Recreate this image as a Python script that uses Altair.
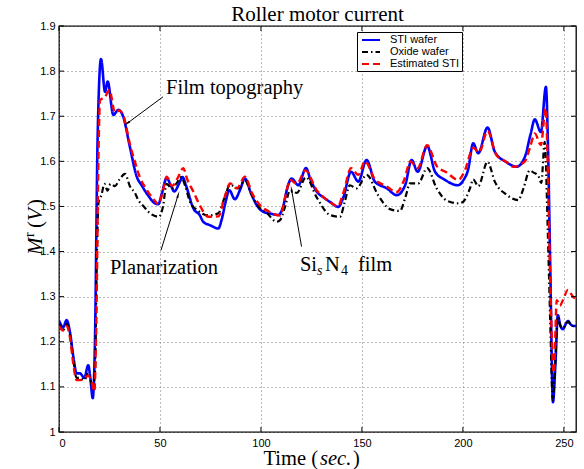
import altair as alt
import pandas as pd

# ---- data ----
t_sti = [0, 2, 3.8, 5.4, 7.1, 8.7, 10.4, 12.5, 14.5, 15.5, 16.7, 17.8, 19.1, 20.8, 22.8, 24.1,
         26.9, 29.4, 31.8, 35.1, 38.5, 40.9, 44, 47.5, 49.2, 51, 53.3, 55.5, 57.1, 59.5, 61.2,
         63, 66.5, 69.8, 71.4, 75, 78.9, 80.5, 82.5, 84.3, 87.1, 89.5, 92.1, 95, 97.9, 101.2,
         105, 108.6, 111, 113, 115.2, 118.5, 122.3, 124.5, 127.6, 131, 134.2, 138.3, 140.8,
         144.6, 148.2, 152.3, 156.4, 162.4, 167.2, 171.4, 174.6, 177.6, 182.3, 186.2, 191.1,
         197.5, 200.5, 202.5, 205.1, 207.6, 212.2, 215.8, 221.6, 226.6, 230.7, 233.5, 235.6,
         238.6, 241.1, 242.2, 243.2, 244.6, 245.8, 247, 248.3, 249.5, 251, 252, 253.5, 254.5, 256]
m_sti = [1.248, 1.232, 1.248, 1.222, 1.167, 1.13, 1.13, 1.12, 1.148, 1.12, 1.075, 1.20, 1.647,
         1.827, 1.754, 1.777, 1.703, 1.714, 1.699, 1.632, 1.566, 1.547, 1.525, 1.507, 1.505,
         1.53, 1.563, 1.545, 1.533, 1.551, 1.565, 1.545, 1.496, 1.48, 1.466, 1.458, 1.451, 1.47,
         1.51, 1.536, 1.516, 1.535, 1.562, 1.53, 1.503, 1.488, 1.484, 1.481, 1.50, 1.54, 1.562,
         1.547, 1.585, 1.56, 1.533, 1.52, 1.51, 1.499, 1.52, 1.577, 1.555, 1.603, 1.555, 1.54,
         1.525, 1.547, 1.603, 1.577, 1.634, 1.577, 1.559, 1.547, 1.56, 1.58, 1.64, 1.618, 1.675,
         1.621, 1.598, 1.588, 1.61, 1.66, 1.693, 1.665, 1.765, 1.62, 1.38, 1.066, 1.15, 1.259,
         1.235, 1.228, 1.24, 1.246, 1.238, 1.235, 1.235]

t_oxide = [0, 2, 3.8, 5.4, 7.1, 8.7, 10.4, 12.5, 14.5, 16.7, 17.8, 18.8, 19.6, 21, 22.5, 24,
           25.5, 27.7, 30, 32.7, 35.1, 37.6, 39.3, 42, 45, 49.5, 51.5, 53.3, 55.8, 58, 60.5,
           62.5, 64.9, 69, 73.9, 78.9, 82, 84.7, 88.8, 92.1, 95, 98.7, 103, 107.8, 109.5, 112,
           114.4, 117.8, 122.3, 127.6, 134.2, 139.1, 141.5, 144, 147.4, 152.3, 158, 163.9,
           168.8, 171.5, 173.8, 177.9, 182.3, 187, 192, 197.7, 200, 203.5, 205.1, 207.6, 212.2,
           215.8, 221.6, 227.4, 230, 233.1, 235, 237.3, 238.8, 240.5, 242, 243.2, 244.5, 245.8,
           247, 248.3, 249.5, 251, 252, 253.5, 254.5, 256]
m_oxide = [1.24, 1.225, 1.24, 1.215, 1.16, 1.12, 1.12, 1.115, 1.13, 1.10, 1.13, 1.40, 1.51,
           1.525, 1.55, 1.535, 1.55, 1.545, 1.56, 1.572, 1.545, 1.53, 1.514, 1.50, 1.485, 1.477,
           1.50, 1.55, 1.54, 1.55, 1.565, 1.545, 1.51, 1.49, 1.48, 1.485, 1.52, 1.548, 1.54,
           1.558, 1.53, 1.50, 1.485, 1.466, 1.47, 1.50, 1.536, 1.53, 1.565, 1.52, 1.481, 1.477,
           1.51, 1.547, 1.54, 1.57, 1.525, 1.494, 1.49, 1.52, 1.551, 1.551, 1.585, 1.54, 1.513,
           1.507, 1.51, 1.54, 1.56, 1.545, 1.599, 1.555, 1.526, 1.514, 1.54, 1.58, 1.575, 1.568,
           1.552, 1.643, 1.45, 1.25, 1.07, 1.16, 1.255, 1.235, 1.23, 1.24, 1.245, 1.237, 1.235,
           1.235]

t_est = [0, 2, 3.8, 5.4, 7.1, 8.7, 10.4, 12.5, 14.5, 16.2, 17.5, 18.5, 19.5, 20.3, 22.8, 25,
         27.7, 30, 32, 35, 37.5, 40, 43, 47, 49.2, 51.5, 53.3, 56, 59, 61.5, 63.5, 66.5, 70,
         73.9, 78.9, 82, 84.7, 88, 92.1, 95.5, 99.5, 103.5, 107.8, 109.5, 112, 114.4, 117.8,
         122, 127.6, 131, 134.2, 138, 140.8, 144.6, 148.2, 151.5, 156.4, 162, 167.2, 171, 174,
         177.6, 182.3, 187, 192, 197.7, 201, 205.1, 208, 212.2, 216.6, 221, 225, 230.7, 233.5,
         235.6, 238.6, 241, 242.2, 243.3, 245, 246.5, 248, 249.5, 252, 254.5, 256]
m_est = [1.235, 1.225, 1.235, 1.21, 1.15, 1.115, 1.115, 1.12, 1.125, 1.11, 1.09, 1.25, 1.60,
         1.735, 1.743, 1.758, 1.708, 1.713, 1.70, 1.64, 1.60, 1.565, 1.54, 1.515, 1.505, 1.535,
         1.566, 1.545, 1.565, 1.585, 1.56, 1.533, 1.50, 1.477, 1.478, 1.52, 1.551, 1.54, 1.566,
         1.53, 1.503, 1.49, 1.481, 1.48, 1.52, 1.559, 1.55, 1.58, 1.536, 1.52, 1.51, 1.50, 1.53,
         1.585, 1.57, 1.60, 1.56, 1.545, 1.532, 1.56, 1.60, 1.585, 1.636, 1.59, 1.575, 1.559,
         1.58, 1.63, 1.62, 1.667, 1.614, 1.60, 1.588, 1.60, 1.635, 1.662, 1.636, 1.718, 1.55,
         1.32, 1.131, 1.292, 1.28, 1.292, 1.315, 1.30, 1.295]

series_names = ["STI wafer", "Oxide wafer", "Estimated STI"]
series_colors = ["#0000ff", "#000000", "#ff0000"]
series_dash = [[1, 0], [6, 3, 1.5, 3], [7, 4]]

x_ticks = [0, 50, 100, 150, 200, 250]
y_ticks = [1.0, 1.1, 1.2, 1.3, 1.4, 1.5, 1.6, 1.7, 1.8, 1.9]

# annotations (data coordinates)
ann_text = ["Film topography", "Planarization"]
ann_tx = [53.0, 25.2]
ann_ty = [1.763, 1.363]
sin_t, sin_m = 119.3, 1.358          # anchor of the "Si_s N_4 film" label
arr_x0 = [51.5, 50.5, 120.1]
arr_y0 = [1.743, 1.403, 1.411]
arr_x1 = [34.0, 58.9, 115.2]
arr_y1 = [1.685, 1.524, 1.536]
arr_angle = [233.6, 17.3, 350.0]

W, H = 517, 406
SERIF = "Liberation Serif"

df_sti = pd.DataFrame({"t": t_sti, "m": m_sti, "s": series_names[0]})
df_ox = pd.DataFrame({"t": t_oxide, "m": m_oxide, "s": series_names[1]})
df_est = pd.DataFrame({"t": t_est, "m": m_est, "s": series_names[2]})

xs = alt.Scale(domain=[0, 256], nice=False, zero=False)
ys = alt.Scale(domain=[1.0, 1.9], nice=False, zero=False)
cs = alt.Scale(domain=series_names, range=series_colors)
ds = alt.Scale(domain=series_names, range=series_dash)

x_axis = alt.Axis(values=x_ticks, title=None, ticks=False, domain=False,
                  labelFont="Liberation Sans", labelFontSize=11, labelColor="black",
                  labelPadding=5, grid=True, gridDash=[1, 3], gridColor="#777777", gridWidth=1)
y_axis = alt.Axis(values=y_ticks, title=None, ticks=False, domain=False, format=".1~f",
                  labelFont="Liberation Sans", labelFontSize=11, labelColor="black",
                  labelPadding=4, grid=True, gridDash=[1, 3], gridColor="#777777", gridWidth=1)

legend = alt.Legend(title=None, orient="none", legendX=298, legendY=6, fillColor="white",
                    strokeColor="black", padding=2, symbolType="M-1.8,0H1.8", symbolSize=100,
                    symbolStrokeWidth=2, symbolOffset=6, labelFont="Liberation Sans",
                    labelFontSize=11, labelColor="black", rowPadding=1, labelOffset=13)


def X(field):
    return alt.X(field, scale=xs, axis=x_axis)


def Y(field):
    return alt.Y(field, scale=ys, axis=y_axis)


def series_layer(df, width):
    return alt.Chart(df).mark_line(strokeWidth=width, interpolate="monotone", clip=True).encode(
        x=X("t:Q"), y=Y("m:Q"),
        color=alt.Color("s:N", scale=cs, legend=legend),
        strokeDash=alt.StrokeDash("s:N", scale=ds, legend=legend),
    )


l_sti = series_layer(df_sti, 2.6)
l_ox = series_layer(df_ox, 2.2)
l_est = series_layer(df_est, 2.4)

# inward ticks on all four sides (MATLAB style)
xt = pd.DataFrame({"t": x_ticks})
yt = pd.DataFrame({"m": y_ticks})
tick_bottom = alt.Chart(xt).mark_rule(color="black", strokeWidth=1).encode(
    x=X("t:Q"), y=alt.value(H), y2=alt.value(H - 5))
tick_top = alt.Chart(xt).mark_rule(color="black", strokeWidth=1).encode(
    x=X("t:Q"), y=alt.value(0), y2=alt.value(5))
tick_left = alt.Chart(yt).mark_rule(color="black", strokeWidth=1).encode(
    y=Y("m:Q"), x=alt.value(0), x2=alt.value(5))
tick_right = alt.Chart(yt).mark_rule(color="black", strokeWidth=1).encode(
    y=Y("m:Q"), x=alt.value(W), x2=alt.value(W - 5))

ann = pd.DataFrame({"text": ann_text, "t": ann_tx, "m": ann_ty})
arrows = pd.DataFrame({"t0": arr_x0, "m0": arr_y0, "t1": arr_x1, "m1": arr_y1,
                       "ang": arr_angle})
ann_texts = alt.Chart(ann).mark_text(font=SERIF, fontSize=20.5, align="left",
                                     baseline="middle", color="black").encode(
    x=X("t:Q"), y=Y("m:Q"), text="text:N")
ann_lines = alt.Chart(arrows).mark_rule(color="black", strokeWidth=1).encode(
    x=X("t0:Q"), y=Y("m0:Q"), x2="t1:Q", y2="m1:Q")
ann_heads = alt.Chart(arrows).mark_point(shape="wedge", filled=True, color="black",
                                         size=70, opacity=1).encode(
    x=X("t1:Q"), y=Y("m1:Q"), angle=alt.Angle("ang:Q", scale=None))

# "Si_s N_4 film" label built from pieces (subscripts)
sin_df = pd.DataFrame({"t": [sin_t], "m": [sin_m]})


def sin_piece(txt, dx, size, dy=0, style="normal"):
    return alt.Chart(sin_df).mark_text(font=SERIF, fontSize=size, align="left",
                                       baseline="alphabetic", dx=dx, dy=dy,
                                       fontStyle=style, color="black").encode(
        x=X("t:Q"), y=Y("m:Q"), text=alt.value(txt))


sin_layers = [sin_piece("Si", 0, 20.5), sin_piece("s", 17, 14, 4, "italic"),
              sin_piece("N", 25, 20.5), sin_piece("4", 41, 14, 4),
              sin_piece("film", 58, 20.5)]

# titles drawn as text (allow mixed italic / superscript like the reference)
one = pd.DataFrame({"k": [0]})


def free_text(txt, x, y, size, align="left", baseline="middle", style="normal", angle=0):
    return alt.Chart(one).mark_text(font=SERIF, fontSize=size, align=align, baseline=baseline,
                                    fontStyle=style, angle=angle, color="black").encode(
        x=alt.value(x), y=alt.value(y), text=alt.value(txt))


title_layers = [free_text("Roller motor current", W / 2, -11, 21, align="center")]
xtitle_layers = [free_text("Time (", 259, H + 27, 20.5, align="right"),
                 free_text("sec.", 261, H + 27, 20.5, style="italic"),
                 free_text(")", 294, H + 27, 20.5)]
ytitle_layers = [free_text("M", -17, 229, 21, baseline="alphabetic", style="italic", angle=270),
                 free_text("r", -25, 211, 14, baseline="alphabetic", angle=270),
                 free_text("(", -17, 202, 21, baseline="alphabetic", angle=270),
                 free_text("V", -17, 195, 21, baseline="alphabetic", style="italic", angle=270),
                 free_text(")", -17, 180, 21, baseline="alphabetic", angle=270)]

chart = alt.layer(
    l_sti, l_ox, l_est,
    tick_bottom, tick_top, tick_left, tick_right,
    ann_lines, ann_heads, ann_texts, *sin_layers,
    *title_layers, *xtitle_layers, *ytitle_layers,
).properties(
    width=W, height=H,
    autosize=alt.AutoSizeParams(type="none"),
    padding={"left": 59, "top": 26, "right": 8, "bottom": 37},
    background="white",
).configure_view(stroke="black", strokeWidth=1.3)

chart.save("out.html", embed_options={"renderer": "svg", "actions": False})
